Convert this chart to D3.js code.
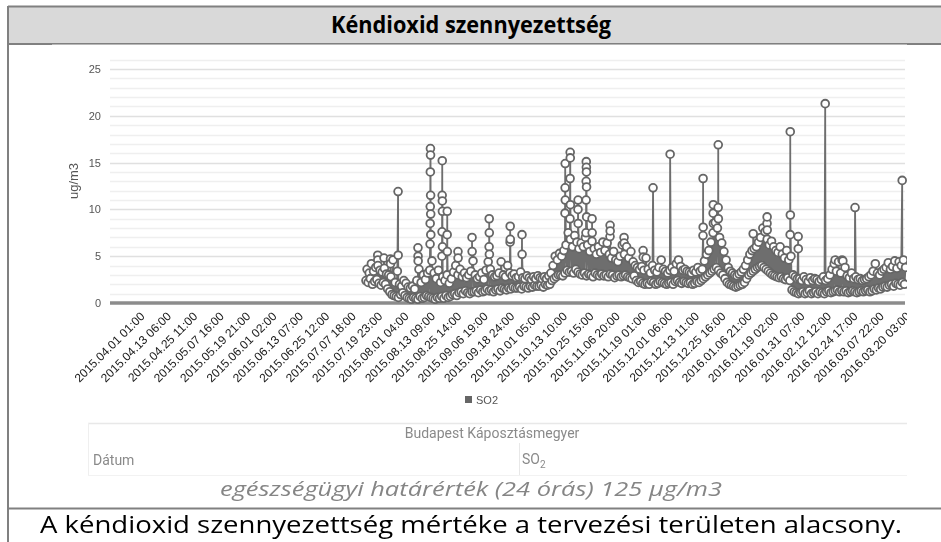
<!DOCTYPE html>
<html>
<head>
<meta charset="utf-8">
<script src="https://cdn.jsdelivr.net/npm/d3@7"></script>
<style>
  html, body { margin: 0; padding: 0; background: #fff; }
  svg { display: block; }
</style>
</head>
<body>
<svg id="chart" width="941" height="542"></svg>
<script>
// ---- Texts ----
const title = "Kéndioxid szennyezettség";
const yAxisTitle = "ug/m3";
const seriesName = "SO2";
const stationName = "Budapest Káposztásmegyer";
const limitNote = "egészségügyi határérték (24 órás) 125 µg/m3";
const conclusion = "A kéndioxid szennyezettség mértéke a tervezési területen alacsony.";

// ---- Axis labels (one every 293 hours from 2015.04.01 01:00) ----
const tickLabels = [
  "2015.04.01 01:00", "2015.04.13 06:00", "2015.04.25 11:00", "2015.05.07 16:00",
  "2015.05.19 21:00", "2015.06.01 02:00", "2015.06.13 07:00", "2015.06.25 12:00",
  "2015.07.07 18:00", "2015.07.19 23:00", "2015.08.01 04:00", "2015.08.13 09:00",
  "2015.08.25 14:00", "2015.09.06 19:00", "2015.09.18 24:00", "2015.10.01 05:00",
  "2015.10.13 10:00", "2015.10.25 15:00", "2015.11.06 20:00", "2015.11.19 01:00",
  "2015.12.01 06:00", "2015.12.13 11:00", "2015.12.25 16:00", "2016.01.06 21:00",
  "2016.01.19 02:00", "2016.01.31 07:00", "2016.02.12 12:00", "2016.02.24 17:00",
  "2016.03.07 22:00", "2016.03.20 03:00"
];
const tickStepHours = 293;
const yTickValues = [0, 5, 10, 15, 20, 25];

// ---- SO2 readings (ug/m3) ----
// Daily low (night) and high (afternoon) values, from day 102 after 2015.04.01.
const bandStartDay = 102;
const bandLow = [
  2.4, 2.2, 2.6, 2.0, 2.3, 2.5, 2.1, 1.9, 2.2, 2.0,
  1.5, 1.2, 0.9, 0.8, 0.7, 0.6, 0.9, 1.1, 0.8, 0.6,
  0.5, 0.4, 0.6, 0.5, 0.4, 0.7, 0.5, 0.6, 0.8, 0.7,
  0.6, 0.5, 0.4, 0.6, 0.5, 0.7, 0.5, 0.8, 0.6, 0.7,
  0.9, 1.0, 0.8, 1.1, 1.2, 1.0, 1.3, 1.1, 1.0, 1.2,
  1.2, 1.3, 1.1, 1.4, 1.2, 1.3, 1.5, 1.3, 1.4, 1.2,
  1.4, 1.5, 1.3, 1.6, 1.5, 1.4, 1.6, 1.5, 1.7, 1.6,
  1.6, 1.7, 1.5, 1.8, 1.7, 1.6, 1.8, 1.7, 1.9, 1.8,
  1.8, 1.9, 1.7, 2.0, 1.9, 2.0, 2.4, 2.6, 2.8, 3.0,
  3.0, 2.9, 3.2, 3.5, 3.3, 3.4, 3.2, 3.6, 3.3, 3.1,
  3.0, 3.2, 2.9, 3.1, 3.0, 2.8, 3.2, 3.0, 2.9, 3.1,
  2.9, 3.0, 2.8, 3.1, 3.0, 2.7, 2.9, 3.0, 2.8, 2.9,
  3.0, 2.8, 2.7, 2.6, 2.9, 2.4, 2.2, 2.3, 2.1, 2.0,
  2.1, 2.0, 2.3, 2.2, 2.0, 2.1, 2.3, 2.2, 2.1, 2.0,
  2.1, 2.2, 2.0, 2.3, 2.4, 2.2, 2.1, 2.3, 2.2, 2.1,
  2.2, 2.0, 2.1, 2.3, 2.2, 2.4, 2.6, 2.8, 3.0, 3.2,
  3.4, 3.6, 3.8, 3.5, 3.2, 3.0, 2.6, 2.2, 2.0, 1.9,
  1.8, 1.7, 1.8, 1.9, 2.0, 2.2, 2.6, 3.0, 3.2, 3.4,
  3.6, 3.8, 3.9, 4.0, 3.8, 3.6, 3.4, 3.2, 3.0, 2.9,
  2.8, 2.7, 2.8, 2.6, 2.5, 2.7, 2.4, 1.4, 1.2, 1.1,
  1.0, 1.1, 1.2, 1.0, 1.1, 1.3, 1.0, 1.1, 1.2, 1.0,
  1.2, 1.1, 1.0, 1.2, 1.3, 1.1, 1.2, 1.3, 1.4, 1.2,
  1.3, 1.2, 1.3, 1.1, 1.2, 1.3, 1.2, 1.1, 1.2, 1.3,
  1.2, 1.3, 1.4, 1.2, 1.3, 1.5, 1.4, 1.6, 1.5, 1.7,
  1.8, 1.7, 1.9, 2.0, 1.8, 2.1, 2.0, 1.9, 2.2, 2.0
];
const bandHigh = [
  3.6, 3.2, 4.2, 3.4, 3.8, 4.0, 3.5, 3.3, 3.7, 3.1,
  3.0, 2.8, 4.6, 2.2, 3.4, 2.0, 1.8, 2.4, 2.1, 1.7,
  1.6, 1.8, 1.5, 2.4, 3.6, 2.2, 3.0, 2.5, 3.2, 3.5,
  4.5, 3.2, 2.6, 3.5, 2.2, 2.8, 2.4, 3.0, 2.1, 2.6,
  3.3, 4.0, 3.0, 3.6, 2.8, 3.2, 2.7, 3.0, 3.4, 4.5,
  3.0, 2.6, 2.8, 3.2, 2.5, 3.5, 4.4, 3.6, 3.0, 2.8,
  2.9, 3.2, 4.4, 3.0, 2.8, 4.0, 3.2, 2.9, 3.1, 2.7,
  2.8, 3.3, 2.7, 2.6, 2.9, 2.7, 2.5, 2.8, 2.6, 2.9,
  2.7, 2.6, 2.8, 2.6, 2.9, 3.2, 4.0, 5.0, 4.6, 5.3,
  5.0, 5.6, 6.2, 7.5, 6.8, 6.0, 7.2, 6.5, 5.8, 6.4,
  6.0, 7.0, 6.2, 5.5, 6.6, 5.8, 5.2, 6.0, 5.4, 6.5,
  5.6, 6.4, 5.2, 4.8, 5.5, 4.6, 4.4, 5.0, 6.2, 5.2,
  6.0, 4.8, 5.5, 4.4, 4.0, 3.8, 3.6, 3.9, 3.5, 4.8,
  3.6, 3.2, 4.0, 3.5, 3.3, 3.8, 4.6, 3.6, 3.4, 3.2,
  3.5, 3.8, 3.4, 4.2, 4.6, 3.9, 3.5, 3.6, 3.4, 3.3,
  3.2, 3.5, 3.3, 3.8, 3.4, 3.6, 4.5, 5.2, 5.6, 6.5,
  7.5, 8.6, 8.0, 7.0, 6.4, 5.5, 4.6, 3.8, 3.4, 3.2,
  3.0, 2.9, 3.1, 3.3, 3.6, 4.0, 4.6, 5.2, 5.6, 5.8,
  6.0, 6.5, 7.0, 8.0, 7.6, 6.8, 6.2, 6.6, 6.0, 5.6,
  5.4, 6.0, 5.2, 4.8, 5.6, 4.6, 5.0, 3.0, 2.8, 2.6,
  2.6, 2.4, 2.8, 2.5, 2.3, 2.7, 2.4, 2.6, 2.5, 2.3,
  2.5, 2.8, 2.4, 2.6, 3.0, 3.6, 4.2, 3.4, 4.4, 3.2,
  4.5, 3.8, 2.9, 2.7, 3.2, 2.6, 2.8, 2.5, 2.6, 2.4,
  2.5, 2.6, 2.8, 3.0, 3.4, 4.2, 3.2, 3.0, 3.4, 3.6,
  3.8, 4.3, 3.6, 3.9, 4.5, 3.7, 4.4, 4.0, 4.6, 3.8
];
// Short episodes: [day after 2015.04.01, value]; repeated days are consecutive hours.
const peaks = [
  [107.6, 5.1], [107.6, 4.6], [110.5, 4.8], [113.5, 4.7], [113.5, 4.2],
  [117.0, 11.9], [117.0, 5.1],
  [126.2, 5.9], [126.2, 5.0], [126.2, 4.5],
  [131.8, 6.3], [131.8, 8.5], [131.8, 10.3], [131.8, 14.0], [131.8, 16.5],
  [131.8, 15.8], [131.8, 11.5], [131.8, 9.5], [131.8, 7.3],
  [137.3, 5.0], [137.3, 7.6], [137.3, 11.5], [137.3, 15.2], [137.3, 10.9],
  [137.3, 9.8], [137.3, 6.0],
  [139.7, 7.3], [139.7, 9.8], [139.7, 5.5],
  [144.7, 5.5], [144.7, 4.8], [151.2, 7.0], [151.2, 5.5],
  [159.1, 6.0], [159.1, 9.0], [159.1, 7.5], [159.1, 5.2],
  [168.8, 6.5], [168.8, 8.2], [168.8, 6.8], [174.3, 7.3], [174.3, 5.2],
  [194.2, 9.6], [194.2, 12.3], [194.2, 14.9], [194.2, 11.0],
  [196.5, 9.0], [196.5, 13.3], [196.5, 16.1], [196.5, 15.5], [196.5, 10.5],
  [200.2, 10.0], [200.2, 11.0], [200.2, 8.5],
  [203.9, 7.5], [203.9, 11.0], [203.9, 13.0], [203.9, 15.1], [203.9, 14.5],
  [203.9, 14.0], [203.9, 12.4], [203.9, 9.2],
  [206.7, 9.0], [206.7, 7.5],
  [215.0, 7.1], [215.0, 8.3], [215.0, 7.7], [221.5, 7.0], [221.5, 6.4],
  [230.3, 5.6], [230.3, 4.9],
  [234.9, 12.3], [242.8, 15.9],
  [258.0, 7.2], [258.0, 13.3], [258.0, 8.1],
  [262.7, 9.6], [262.7, 10.5], [262.7, 8.5],
  [265.0, 10.2], [265.0, 16.9], [265.0, 9.0],
  [281.2, 7.4], [287.6, 8.5], [287.6, 9.2], [287.6, 7.8],
  [298.3, 7.3], [298.3, 18.3], [298.3, 9.4],
  [302.0, 7.1], [302.0, 5.8],
  [314.5, 21.3], [319.1, 4.6], [322.3, 4.6], [328.3, 10.2], [350.1, 13.1]
];

// ---- Build the time series (time in days after 2015.04.01 01:00) ----
const readings = [];
bandLow.forEach((v, i) => {
  readings.push({ t: bandStartDay + i + 4 / 24, v: v });
  readings.push({ t: bandStartDay + i + 16 / 24, v: bandHigh[i] });
});
let prevDay = null, hourIdx = 0;
peaks.forEach(([d, v]) => {
  hourIdx = d === prevDay ? hourIdx + 1 : 0;
  prevDay = d;
  readings.push({ t: d + hourIdx / 24, v: v });
});
readings.sort((a, b) => a.t - b.t);

// ---- Page frame ----
const svg = d3.select("#chart");
const W = 941, H = 542;
const frameColor = "#808080";

const defs = svg.append("defs");
defs.append("filter").attr("id", "soft").attr("x", "-5%").attr("y", "-5%")
  .attr("width", "110%").attr("height", "110%")
  .append("feGaussianBlur").attr("stdDeviation", 0.35);
defs.append("clipPath").attr("id", "imgclip")
  .append("rect").attr("x", 52).attr("y", 45).attr("width", 855).attr("height", 432);

svg.append("rect").attr("x", 8).attr("y", 6).attr("width", W).attr("height", 38).attr("fill", "#d9d9d9");
svg.append("line").attr("x1", 8).attr("x2", W).attr("y1", 6.5).attr("y2", 6.5)
  .attr("stroke", frameColor).attr("stroke-width", 2);
svg.append("line").attr("x1", 8).attr("x2", 8).attr("y1", 6).attr("y2", H)
  .attr("stroke", frameColor).attr("stroke-width", 2);
svg.append("line").attr("x1", 8).attr("x2", W).attr("y1", 44).attr("y2", 44)
  .attr("stroke", frameColor).attr("stroke-width", 2);
svg.append("line").attr("x1", 52).attr("x2", 907).attr("y1", 44.5).attr("y2", 44.5)
  .attr("stroke", "#b8b8b8").attr("stroke-width", 1);
svg.append("rect").attr("x", 52).attr("y", 45).attr("width", 855).attr("height", 432).attr("fill", "#fff");
svg.append("line").attr("x1", 8).attr("x2", W).attr("y1", 508.5).attr("y2", 508.5)
  .attr("stroke", frameColor).attr("stroke-width", 2);

svg.append("text").attr("x", 471).attr("y", 33).attr("text-anchor", "middle")
  .attr("font-family", "'Open Sans', 'Noto Sans', sans-serif").attr("font-weight", 700)
  .attr("font-size", 23).attr("fill", "#000")
  .attr("textLength", 280).attr("lengthAdjust", "spacingAndGlyphs")
  .text(title);

// ---- Chart (embedded, slightly soft) ----
const chart = svg.append("g").attr("clip-path", "url(#imgclip)")
  .append("g").attr("filter", "url(#soft)");

const x = d3.scaleLinear().domain([-16.2, 351.4]).range([110, 905]);
const y = d3.scaleLinear().domain([0, 26]).range([303, 303 - 26 * 9.36]);
const axisFont = "'Liberation Sans', Arial, sans-serif";

// gridlines every 1 ug/m3, darker every 5
chart.append("g").selectAll("line").data(d3.range(1, 27)).join("line")
  .attr("x1", 110).attr("x2", 905)
  .attr("y1", d => Math.round(y(d)) + 0.5).attr("y2", d => Math.round(y(d)) + 0.5)
  .attr("stroke", d => d % 5 === 0 ? "#e0e0e0" : "#efefef")
  .attr("stroke-width", 1.3);

// y axis labels
const yAxis = d3.axisLeft(y).tickValues(yTickValues).tickSize(0).tickPadding(0);
chart.append("g").attr("transform", "translate(101,0)").call(yAxis)
  .call(g => g.select(".domain").remove())
  .call(g => g.selectAll("text").attr("font-family", axisFont).attr("font-size", 11)
    .attr("fill", "#555"));

chart.append("text").attr("transform", "translate(78,181) rotate(-90)")
  .attr("text-anchor", "middle").attr("font-family", axisFont).attr("font-size", 13)
  .attr("fill", "#555").text(yAxisTitle);

// zero line
chart.append("line").attr("x1", 110).attr("x2", 905).attr("y1", y(0)).attr("y2", y(0))
  .attr("stroke", "#8c8c8c").attr("stroke-width", 3.5);

// x axis: category labels at every 293 hours
const tickDays = tickLabels.map((_, i) => i * tickStepHours / 24);
const xAxis = d3.axisBottom(x).tickValues(tickDays).tickSize(0)
  .tickFormat((d, i) => tickLabels[i]);
chart.append("g").attr("transform", "translate(0,308)").call(xAxis)
  .call(g => g.select(".domain").remove())
  .call(g => g.selectAll("text")
    .attr("font-family", axisFont).attr("font-size", 12).attr("fill", "#1a1a1a")
    .attr("text-anchor", "end").attr("dy", "0.35em").attr("y", 0)
    .attr("transform", "translate(-3,6) rotate(-45)"));

// series
chart.append("path").datum(readings)
  .attr("d", d3.line().x(d => x(d.t)).y(d => y(d.v)))
  .attr("fill", "none").attr("stroke", "#6e6e6e").attr("stroke-width", 1.8);
chart.append("g").selectAll("circle").data(readings).join("circle")
  .attr("cx", d => x(d.t)).attr("cy", d => y(d.v)).attr("r", 3.9)
  .attr("fill", "#fff").attr("stroke", "#666").attr("stroke-width", 1.8);

// legend
chart.append("rect").attr("x", 465).attr("y", 396).attr("width", 7).attr("height", 7).attr("fill", "#666");
chart.append("text").attr("x", 476).attr("y", 403.5).attr("font-family", axisFont)
  .attr("font-size", 11).attr("fill", "#555").text(seriesName);

// ---- Station table header ----
const tbl = chart.append("g").attr("font-family", "Roboto, 'Liberation Sans', sans-serif")
  .attr("font-size", 14).attr("fill", "#8a8a8a");
tbl.append("line").attr("x1", 88).attr("x2", 907).attr("y1", 423.5).attr("y2", 423.5)
  .attr("stroke", "#e8e8e8").attr("stroke-width", 1.5);
tbl.append("line").attr("x1", 88.5).attr("x2", 88.5).attr("y1", 423).attr("y2", 476)
  .attr("stroke", "#efefef").attr("stroke-width", 1);
tbl.append("line").attr("x1", 519.5).attr("x2", 519.5).attr("y1", 443).attr("y2", 476)
  .attr("stroke", "#e8e8e8").attr("stroke-width", 1);
tbl.append("line").attr("x1", 88).attr("x2", 907).attr("y1", 475.5).attr("y2", 475.5)
  .attr("stroke", "#f2f2f2").attr("stroke-width", 1);
tbl.append("text").attr("x", 492).attr("y", 438).attr("text-anchor", "middle").text(stationName);
tbl.append("text").attr("x", 93).attr("y", 465).text("Dátum");
const so2Head = tbl.append("text").attr("x", 522).attr("y", 464);
so2Head.append("tspan").text("SO");
so2Head.append("tspan").attr("dy", 4).attr("font-size", 10).text("2");

// ---- Notes ----
svg.append("text").attr("x", 471).attr("y", 496).attr("text-anchor", "middle")
  .attr("font-family", "'Open Sans', 'Noto Sans', sans-serif").attr("font-style", "italic")
  .attr("font-size", 20).attr("fill", "#858585")
  .attr("textLength", 502).attr("lengthAdjust", "spacingAndGlyphs")
  .text(limitNote);
svg.append("text").attr("x", 471).attr("y", 533).attr("text-anchor", "middle")
  .attr("font-family", "'Open Sans', 'Noto Sans', sans-serif")
  .attr("font-size", 24).attr("fill", "#000")
  .attr("textLength", 862).attr("lengthAdjust", "spacingAndGlyphs")
  .text(conclusion);
</script>
</body>
</html>
